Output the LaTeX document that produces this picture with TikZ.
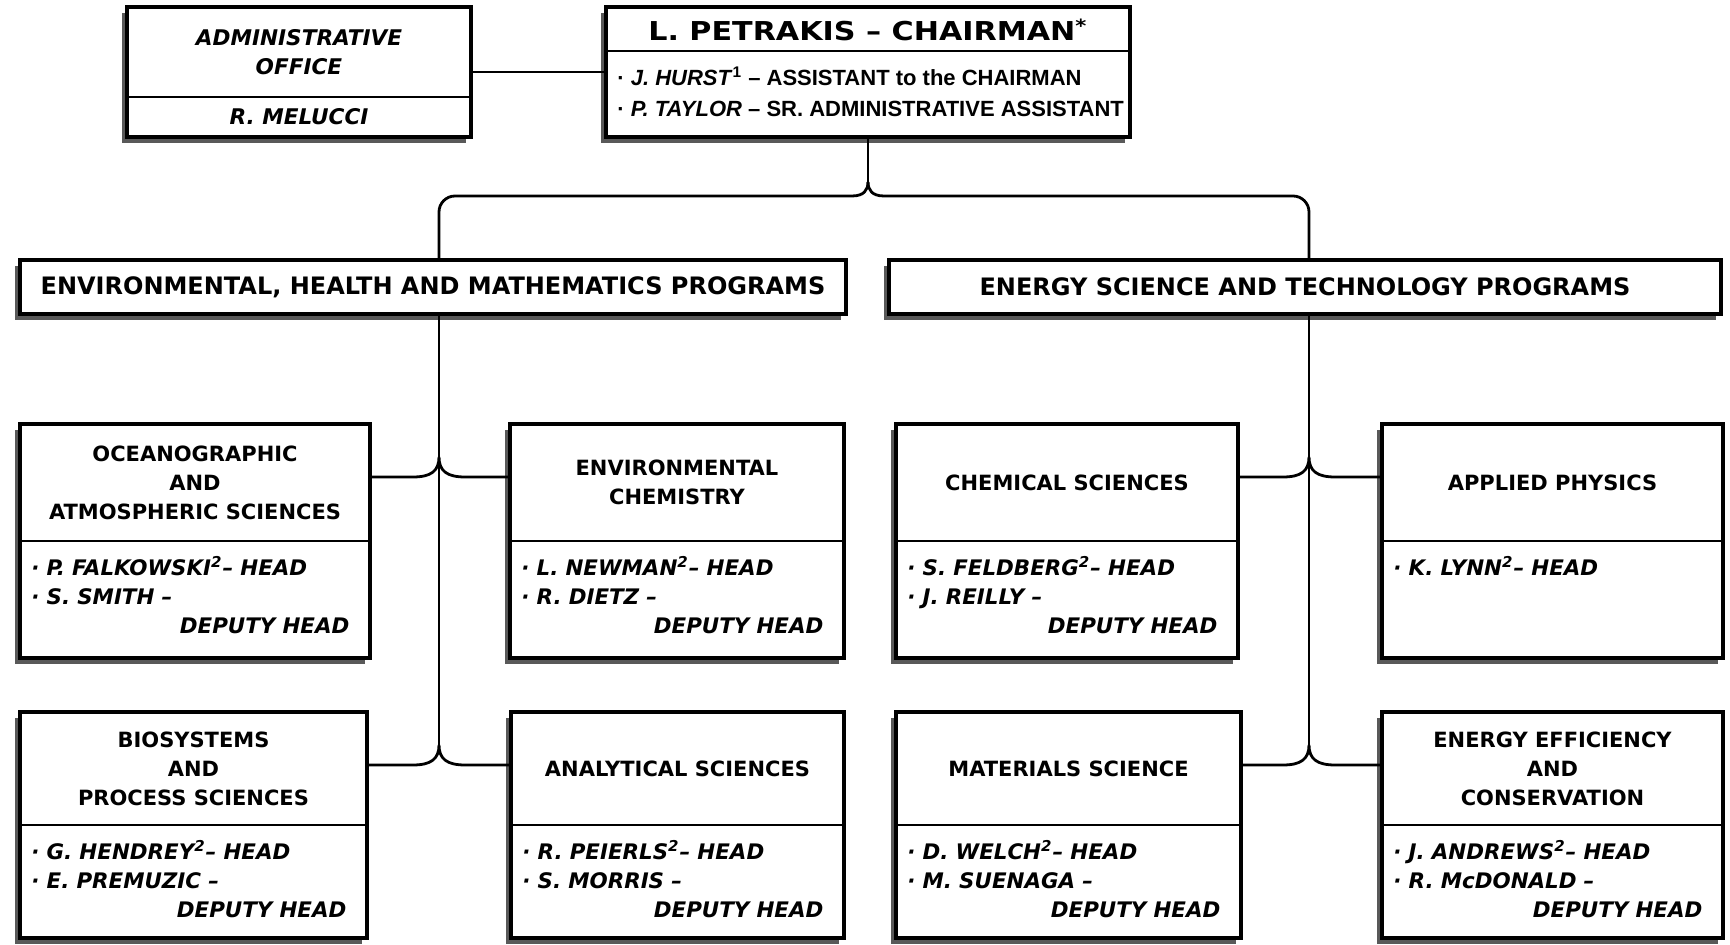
\documentclass[tikz,border=0pt]{standalone}
\usepackage{fontspec}
\usepackage{graphicx}
\setmainfont{DejaVu Sans}
\newfontfamily\narrowfont{Liberation Sans}
\usetikzlibrary{shadows}

\tikzset{
  shadowbox/.style={draw, line width=1.7pt, fill=white, inner sep=0pt, outer sep=0pt,
    drop shadow={shadow xshift=-2.5pt, shadow yshift=-3pt, fill=black!65, opacity=1}},
  unitbox/.style={shadowbox, anchor=north west},
  divline/.style={line width=1.4pt},
  link/.style={line width=1.4pt},
  headtext/.style={font=\bfseries\fontsize{10.5}{14.5}\selectfont, align=center, inner sep=0pt},
  stafftext/.style={font=\bfseries\itshape\fontsize{10.7}{14.5}\selectfont, align=left, anchor=north west, inner sep=0pt},
  progtext/.style={font=\bfseries\fontsize{12}{14}\selectfont},
}

\newcommand{\deputy}{\hspace*{0pt plus 1filll}DEPUTY HEAD}

% unit box: name, left, right, top, divider, bottom, heading, staff
\newcommand{\orgunit}[8]{%
  \pgfmathsetmacro\bw{(#3-#2)*0.5}
  \pgfmathsetmacro\bh{(#6-#4)*0.5}
  \pgfmathsetmacro\tw{(#3-#2-32)*0.5}
  \node[unitbox, minimum width=\bw pt, minimum height=\bh pt] (#1) at (#2,#4) {};
  \draw[divline] (#2,#5) -- (#3,#5);
  \node[headtext] (#1-head) at ({(#2+#3)/2},{(#4+#5)/2}) {#7};
  \node[stafftext, text width=\tw pt] (#1-staff) at ({#2+11},{#5+15}) {#8};
}

\begin{document}
\begin{tikzpicture}[x=0.5pt, y=-0.5pt]

    \useasboundingbox (0,0) rectangle (1730,945);

    % Administrative office
    \node[unitbox, minimum width=172pt, minimum height=65pt] (admin) at (127,7) {};
    \draw[divline] (127,97) -- (471,97);
    \node[headtext, font=\bfseries\itshape\fontsize{10.8}{14.5}\selectfont] (admin-head) at (299,52) {ADMINISTRATIVE\\OFFICE};
    \node[headtext, font=\bfseries\itshape\fontsize{10.8}{14.5}\selectfont] (admin-staff) at (299,117) {R. MELUCCI};

    % Chairman
    \node[unitbox, minimum width=262pt, minimum height=65pt] (chair) at (606,7) {};
    \draw[divline] (606,51) -- (1130,51);
    \node[progtext, font=\bfseries\fontsize{13}{14}\selectfont] (chair-head) at (868,30)
        {\scalebox{1.16}[1]{L. PETRAKIS – CHAIRMAN\textsuperscript{*}}};
    \node[stafftext, font=\narrowfont\bfseries\fontsize{11}{15.5}\selectfont] (chair-staff) at (617,67)
        {· \textit{J. HURST}\textsuperscript{1} – ASSISTANT to the CHAIRMAN\\· \textit{P. TAYLOR} – SR. ADMINISTRATIVE ASSISTANT};

    \draw[link] (admin) -- (chair);

    % Programs
    \node[unitbox, progtext, minimum width=413pt, minimum height=27pt] (envprog) at (20,260) {ENVIRONMENTAL, HEALTH AND MATHEMATICS PROGRAMS};
    \node[unitbox, progtext, minimum width=416pt, minimum height=27pt] (enprog) at (889,260) {ENERGY SCIENCE AND TECHNOLOGY PROGRAMS};

    % Divisions, first row
    \orgunit{ocean}{20}{370}{424}{541}{658}{OCEANOGRAPHIC\\AND\\ATMOSPHERIC SCIENCES}
        {· P. FALKOWSKI\textsuperscript{2}– HEAD\\· S. SMITH –\\\deputy}
    \orgunit{envchem}{510}{844}{424}{541}{658}{ENVIRONMENTAL\\CHEMISTRY}
        {· L. NEWMAN\textsuperscript{2}– HEAD\\· R. DIETZ –\\\deputy}
    \orgunit{chem}{896}{1238}{424}{541}{658}{CHEMICAL SCIENCES}
        {· S. FELDBERG\textsuperscript{2}– HEAD\\· J. REILLY –\\\deputy}
    \orgunit{applied}{1382}{1723}{424}{541}{658}{APPLIED PHYSICS}
        {· K. LYNN\textsuperscript{2}– HEAD}

    % Divisions, second row
    \orgunit{bio}{20}{367}{712}{825}{938}{BIOSYSTEMS\\AND\\PROCESS SCIENCES}
        {· G. HENDREY\textsuperscript{2}– HEAD\\· E. PREMUZIC –\\\deputy}
    \orgunit{analyt}{511}{844}{712}{825}{938}{ANALYTICAL SCIENCES}
        {· R. PEIERLS\textsuperscript{2}– HEAD\\· S. MORRIS –\\\deputy}
    \orgunit{mater}{896}{1241}{712}{825}{938}{MATERIALS SCIENCE}
        {· D. WELCH\textsuperscript{2}– HEAD\\· M. SUENAGA –\\\deputy}
    \orgunit{effic}{1382}{1723}{712}{825}{938}{ENERGY EFFICIENCY\\AND\\CONSERVATION}
        {· J. ANDREWS\textsuperscript{2}– HEAD\\· R. McDONALD –\\\deputy}

    % Bus lines under the programs
    \coordinate (lbus) at (439,0);
    \coordinate (rbus) at (1309,0);

    % Brace from chairman to programs
    \coordinate (topcusp) at (chair.south |- 0,182);
    \coordinate (toprow) at (chair.south |- 0,196);
    \draw[link] (chair.south) -- (topcusp);
    \draw[link] (topcusp) .. controls ([yshift=-4pt]topcusp) and ([xshift=-2pt]toprow) .. ([xshift=-8pt]toprow)
        [rounded corners=8pt] -- (lbus |- toprow) -- (lbus |- envprog.north);
    \draw[link] (topcusp) .. controls ([yshift=-4pt]topcusp) and ([xshift=2pt]toprow) .. ([xshift=8pt]toprow)
        [rounded corners=8pt] -- (rbus |- toprow) -- (rbus |- enprog.north);

    % Junctions on the bus lines
    \coordinate (lrow1) at (lbus |- 0,477);
    \coordinate (lrow2) at (lbus |- 0,765);
    \coordinate (rrow1) at (rbus |- 0,477);
    \coordinate (rrow2) at (rbus |- 0,765);

    \draw[link] (lbus |- envprog.south) -- ([yshift=10pt]lrow2);
    \draw[link] (rbus |- enprog.south) -- ([yshift=10pt]rrow2);

    \draw[link] (ocean.east |- lrow1) -- ([xshift=-13pt]lrow1) .. controls ([xshift=-4pt]lrow1) and ([yshift=3pt]lrow1) .. ([yshift=10pt]lrow1)
        .. controls ([yshift=3pt]lrow1) and ([xshift=4pt]lrow1) .. ([xshift=13pt]lrow1) -- (envchem.west |- lrow1);
    \draw[link] (bio.east |- lrow2) -- ([xshift=-13pt]lrow2) .. controls ([xshift=-4pt]lrow2) and ([yshift=3pt]lrow2) .. ([yshift=10pt]lrow2)
        .. controls ([yshift=3pt]lrow2) and ([xshift=4pt]lrow2) .. ([xshift=13pt]lrow2) -- (analyt.west |- lrow2);
    \draw[link] (chem.east |- rrow1) -- ([xshift=-13pt]rrow1) .. controls ([xshift=-4pt]rrow1) and ([yshift=3pt]rrow1) .. ([yshift=10pt]rrow1)
        .. controls ([yshift=3pt]rrow1) and ([xshift=4pt]rrow1) .. ([xshift=13pt]rrow1) -- (applied.west |- rrow1);
    \draw[link] (mater.east |- rrow2) -- ([xshift=-13pt]rrow2) .. controls ([xshift=-4pt]rrow2) and ([yshift=3pt]rrow2) .. ([yshift=10pt]rrow2)
        .. controls ([yshift=3pt]rrow2) and ([xshift=4pt]rrow2) .. ([xshift=13pt]rrow2) -- (effic.west |- rrow2);

\end{tikzpicture}
\end{document}
